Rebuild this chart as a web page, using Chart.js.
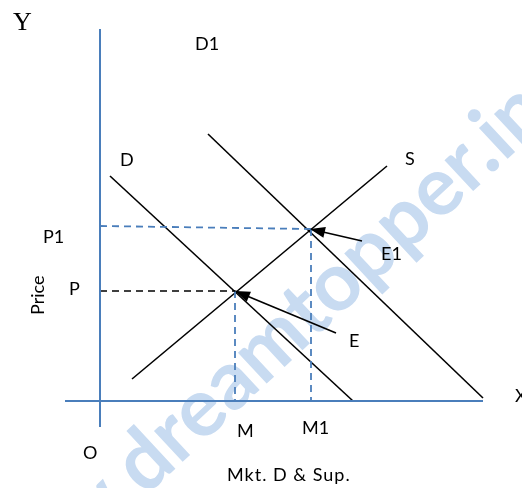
<!DOCTYPE html>
<html>
<head>
<meta charset="utf-8">
<script src="https://cdn.jsdelivr.net/npm/chart.js@4.4.0/dist/chart.umd.min.js"></script>
<style>
html,body{margin:0;padding:0;background:#fff;}
#wrap{width:522px;height:488px;}
</style>
</head>
<body>
<div id="wrap"><canvas id="c" width="522" height="488"></canvas></div>
<script>
// ---- data (quantity on x, price on y; origin O) ----
const demandD  = [{x:1.0, y:22.5}, {x:25.3, y:0.0}];
const demandD1 = [{x:10.8, y:26.7}, {x:38.3, y:0.3}];
const supplyS  = [{x:3.2, y:2.2}, {x:28.7, y:23.5}];
const eqE  = {x:13.5, y:11.0};
const eqE1 = {x:21.1, y:17.2};
const priceP  = [{x:0, y:11.0}, {x:13.5, y:11.0}];
const qtyM    = [{x:13.5, y:11.0}, {x:13.5, y:0}];
const priceP1 = [{x:0, y:17.5}, {x:21.1, y:17.2}];
const qtyM1   = [{x:21.1, y:17.2}, {x:21.1, y:0}];
const arrowE  = [{x:23.6, y:6.8}, {x:13.5, y:11.0}];
const arrowE1 = [{x:26.2, y:16.0}, {x:21.0, y:17.2}];
const axisY = [{x:0, y:37.2}, {x:0, y:-2.6}];
const axisX = [{x:-3.5, y:0}, {x:38.3, y:0}];
const labelTexts = ['Y','D1','D','S','P1','P','E1','E','M','M1','O','Mkt. D & Sup.','X','Price'];

// ---- presentation ----
const BLUE = '#4a7ebb';
const labelAnchors = [
  {x:-8.7, y:37.1, font:'26px "Liberation Serif"'},
  {x:9.5, y:35.1}, {x:2.0, y:23.5}, {x:30.5, y:23.6},
  {x:-5.7, y:15.8}, {x:-3.1, y:10.6},
  {x:28.1, y:14.1}, {x:24.9, y:5.4},
  {x:13.7, y:-3.6}, {x:20.2, y:-3.3},
  {x:-1.7, y:-5.8}, {x:12.7, y:-8.0, spacing:'1px'},
  {x:41.5, y:-0.1},
  {x:-5.6, y:8.6, rotate:true}
];

function ds(data, color, width, dash, extra){
  return Object.assign({data, borderColor:color, borderWidth:width, borderDash:dash||[],
    showLine:true, pointRadius:0, pointHoverRadius:0, fill:false, tension:0}, extra||{});
}

const watermark = {
  id:'watermark',
  beforeDatasetsDraw(chart){
    const ctx = chart.ctx;
    ctx.save();
    ctx.translate(145, 497);
    ctx.rotate(-43*Math.PI/180);
    ctx.font = 'bold 82px Lato';
    ctx.fillStyle = '#c8dbf1';
    ctx.textBaseline = 'alphabetic';
    const pre = ctx.measureText('www.').width;
    ctx.fillText('www.dreamtopper.in', -pre, 0);
    ctx.restore();
  }
};

const arrows = {
  id:'arrows',
  afterDatasetsDraw(chart){
    const ctx = chart.ctx;
    chart.data.datasets.forEach((d,i)=>{
      if(!d.arrow) return;
      const pts = chart.getDatasetMeta(i).data;
      const a = pts[pts.length-2], b = pts[pts.length-1];
      const ang = Math.atan2(b.y-a.y, b.x-a.x);
      const L = 15, W = 5.5;
      ctx.save();
      ctx.translate(b.x, b.y);
      ctx.rotate(ang);
      ctx.beginPath();
      ctx.moveTo(0,0);
      ctx.lineTo(-L, -W);
      ctx.lineTo(-L, W);
      ctx.closePath();
      ctx.fillStyle = '#000';
      ctx.fill();
      ctx.restore();
    });
  }
};

const labels = {
  id:'labels',
  afterDraw(chart){
    const ctx = chart.ctx, xs = chart.scales.x, ys = chart.scales.y;
    labelTexts.forEach((t,i)=>{
      const a = labelAnchors[i];
      const px = xs.getPixelForValue(a.x), py = ys.getPixelForValue(a.y);
      ctx.save();
      ctx.font = a.font || '18px Lato';
      if(a.spacing) ctx.letterSpacing = a.spacing;
      ctx.fillStyle = '#000';
      ctx.textAlign = 'left';
      ctx.textBaseline = 'alphabetic';
      ctx.translate(px, py);
      if(a.rotate) ctx.rotate(-Math.PI/2);
      ctx.fillText(t, 0, 0);
      ctx.restore();
    });
  }
};

new Chart(document.getElementById('c'), {
  type:'scatter',
  data:{datasets:[
    ds(axisY, BLUE, 2),
    ds(axisX, BLUE, 2),
    ds(priceP, '#000', 1.6, [7,5]),
    ds(qtyM, BLUE, 1.8, [7,5]),
    ds(priceP1, BLUE, 1.8, [7,5]),
    ds(qtyM1, BLUE, 1.8, [7,5]),
    ds(demandD, '#000', 1.6),
    ds(demandD1, '#000', 1.6),
    ds(supplyS, '#000', 1.6),
    ds(arrowE, '#000', 1.6, [], {arrow:true}),
    ds(arrowE1, '#000', 1.6, [], {arrow:true})
  ]},
  options:{
    responsive:false,
    animation:false,
    devicePixelRatio:1,
    layout:{padding:0},
    events:[],
    plugins:{legend:{display:false}, tooltip:{enabled:false}},
    scales:{
      x:{type:'linear', min:-10, max:42.2, display:false},
      y:{type:'linear', min:-8.7, max:40.1, display:false}
    }
  },
  plugins:[watermark, arrows, labels]
});
</script>
</body>
</html>
